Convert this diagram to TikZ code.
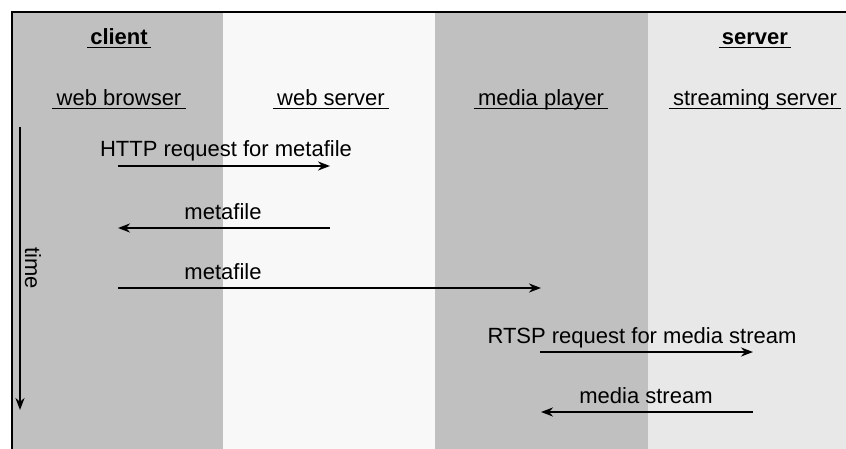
\documentclass[tikz,border=0pt]{standalone}
\usepackage{fontspec}
\setmainfont{Liberation Sans}
\usetikzlibrary{arrows.meta}
\definecolor{bandgray}{HTML}{C0C0C0}
\definecolor{paleband}{HTML}{F8F8F8}
\definecolor{lightband}{HTML}{E8E8E8}
\tikzset{
  hdr/.style={font=\fontsize{22}{26}\selectfont\bfseries, inner xsep=3pt, inner ysep=0pt, anchor=base},
  col/.style={font=\fontsize{22}{26}\selectfont, inner xsep=4pt, inner ysep=0pt, anchor=base},
  lbl/.style={font=\fontsize{22}{26}\selectfont, inner sep=0pt, anchor=base},
  uline/.style={line width=1.6pt, black},
  msg/.style={line width=2.2pt, -{Stealth[length=12pt,width=9pt]}},
  frameline/.style={line width=1.6pt, black}
}
\begin{document}
\begin{tikzpicture}[x=1pt,y=-1pt]
\useasboundingbox (0,0) rectangle (846,449);
\fill[white] (0,0) rectangle (846,449);
% bands
\fill[bandgray] (12,12) rectangle (223,449);
\fill[paleband] (223,12) rectangle (435,449);
\fill[bandgray] (435,12) rectangle (648,449);
\fill[lightband] (648,12) rectangle (846,449);
% frame
\coordinate (ftl) at (12,12);
\coordinate (ftr) at (846,12);
\coordinate (fbl) at (12,449);
\draw[frameline] (ftr) -- (ftl) -- (fbl);
% headers
\node[hdr] (client) at (119,45) {client};
\node[hdr] (server) at (755,45) {server};
\foreach \n in {client,server}
  \draw[uline] ([yshift=-2.5pt]\n.base west) -- ([yshift=-2.5pt]\n.base east);
% columns
\node[col] (wbr) at (119,106) {web browser};
\node[col] (wsv) at (331,106) {web server};
\node[col] (mpl) at (541,106) {media player};
\node[col] (ssv) at (755,106) {streaming server};
\foreach \n in {wbr,wsv,mpl,ssv}
  \draw[line width=1.3pt] ([yshift=-2.5pt]\n.base west) -- ([yshift=-2.5pt]\n.base east);
% time axis
\coordinate (t0) at (20,127);
\coordinate (t1) at (20,410);
\draw[msg] (t0) -- (t1);
\node[lbl, rotate=-90, anchor=center] (time) at (33,268) {time};
% lifeline points
\coordinate (a1) at (118,166); \coordinate (b1) at (330,166);
\coordinate (a2) at (118,228); \coordinate (b2) at (330,228);
\coordinate (a3) at (118,288); \coordinate (c3) at (541,288);
\coordinate (c4) at (540,352); \coordinate (d4) at (753,352);
\coordinate (c5) at (541,412); \coordinate (d5) at (753,412);
% messages
\draw[msg] (a1) -- (b1);
\node[lbl] (m1) at (226,157) {HTTP request for metafile};
\draw[msg] (b2) -- (a2);
\node[lbl] (m2) at (223,219) {metafile};
\draw[msg] (a3) -- (c3);
\node[lbl] (m3) at (223,279) {metafile};
\draw[msg] (c4) -- (d4);
\node[lbl] (m4) at (642,343) {RTSP request for media stream};
\draw[msg] (d5) -- (c5);
\node[lbl] (m5) at (646,403) {media stream};
\end{tikzpicture}
\end{document}
